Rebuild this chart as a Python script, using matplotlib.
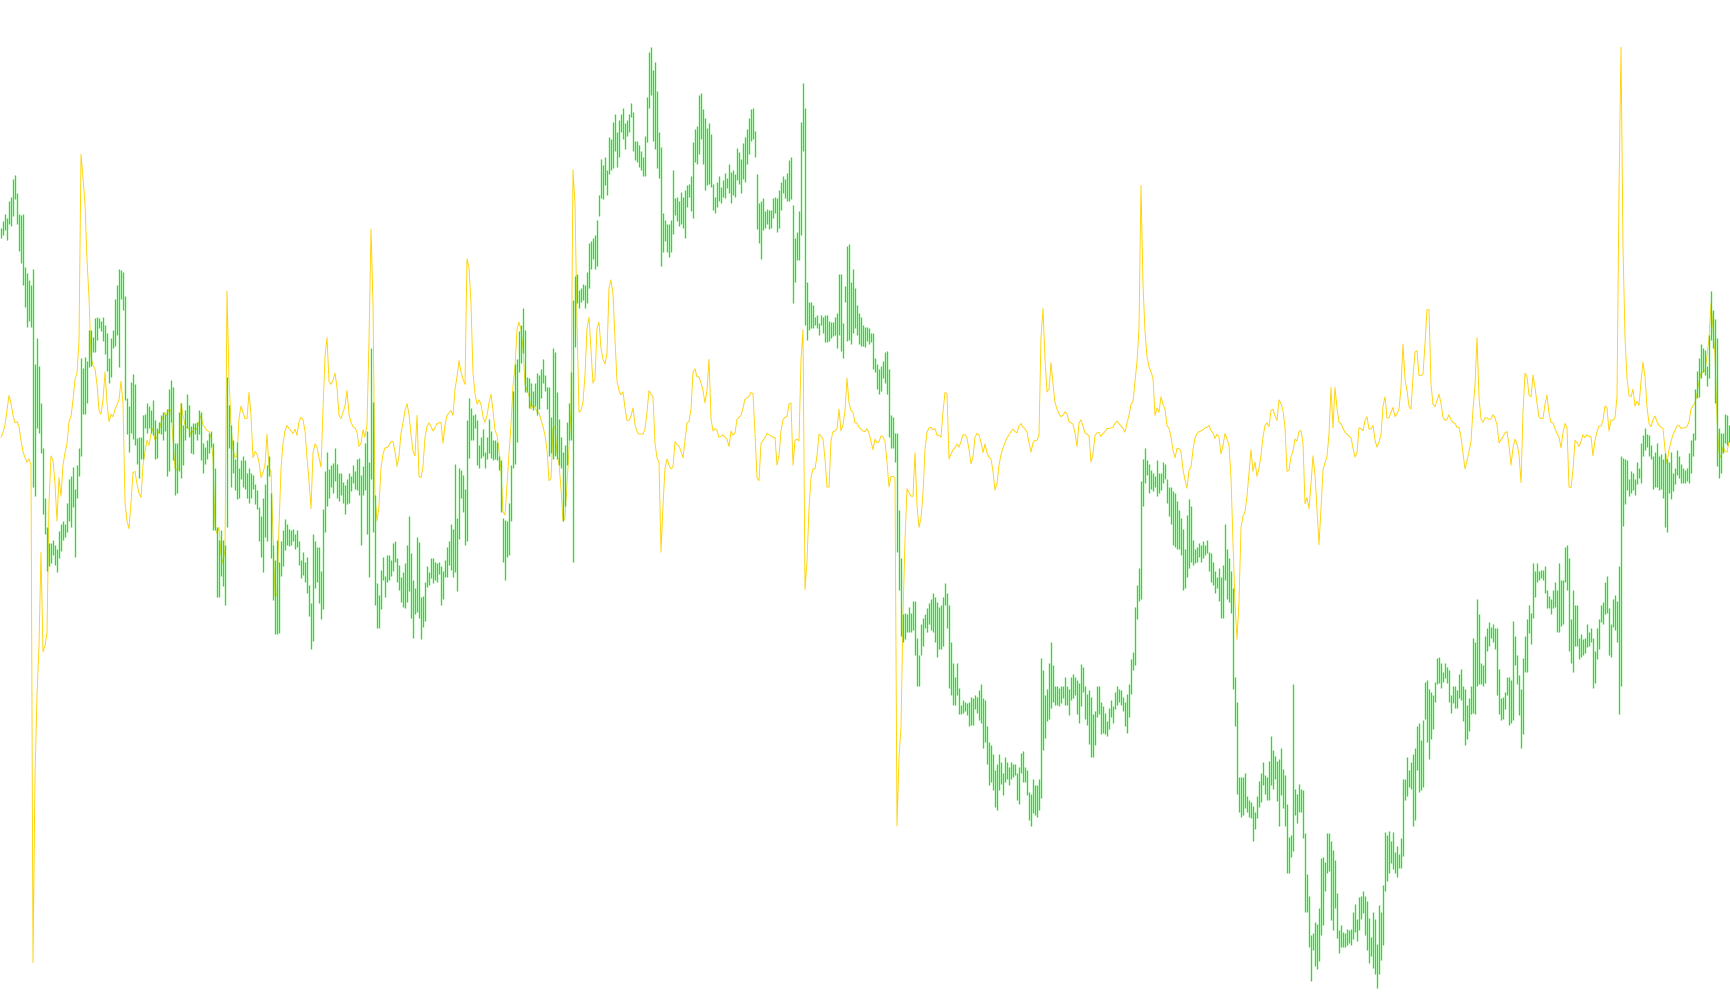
import numpy as np
import matplotlib
matplotlib.use('Agg')
import matplotlib.pyplot as plt

# bar highs, one per bar, left to right (chart units)
bar_high = [
    1282, 1292, 1304, 1298, 1325, 1332, 1360, 1366, 1338, 1304,
    1302, 1304, 1219, 1209, 1198, 1190, 1215, 1063, 1104, 1060,
    1000, 928, 848, 800, 775, 775, 780, 772, 765, 794,
    805, 810, 805, 840, 878, 882, 897, 862, 900, 928,
    1072, 1057, 1074, 1067, 1118, 1118, 1106, 1137, 1138, 1136,
    1132, 1138, 1125, 1113, 1072, 1104, 1117, 1168, 1190, 1215,
    1214, 1210, 1172, 1008, 995, 1033, 1046, 1030, 944, 945,
    945, 980, 982, 1000, 995, 988, 1005, 972, 960, 970,
    980, 985, 983, 990, 1022, 1037, 1025, 935, 935, 985,
    1000, 965, 988, 1015, 996, 963, 968, 968, 970, 988,
    985, 935, 930, 940, 952, 955, 935, 895,
    800, 780, 795, 780, 772, 1042, 997, 965, 940, 910,
    938, 895, 908, 915, 908, 888, 895, 888, 885, 870,
    860, 832, 818, 848, 870, 900, 915, 855, 772, 748,
    780, 745, 778, 795, 814, 805, 798, 795, 798, 790,
    795, 778, 748, 760, 745, 752, 708, 678, 790, 778,
    768, 768, 730, 830, 890, 922, 894, 900, 903, 928,
    902, 888, 888, 873, 868, 878, 888, 882, 900, 890,
    910, 912, 885, 898, 935, 955, 905, 1088, 1002, 852,
    710, 692, 732, 752, 722, 755, 755, 748, 775, 778,
    750, 740, 720, 728, 742, 772, 818, 758, 715, 702,
    784, 777, 688, 690, 712, 738, 728, 750,
    750, 745, 742, 745, 738, 730, 748, 768, 778, 805,
    798, 902, 815, 895, 892, 885, 862, 972, 1008, 992,
    980, 982, 972, 932, 945, 958, 922, 945, 975, 955,
    940, 940, 938, 915, 908, 815, 812, 810, 840, 900,
    1020, 1062, 1070, 1115, 1125, 1153, 1118, 1042, 1040, 1032,
    1020, 1032, 1048, 1045, 1055, 1070, 1045, 1025, 1025, 978,
    1088, 1082, 1018, 975, 945, 922, 932, 970, 1000, 1050,
    1165, 1205, 1208, 1182, 1185, 1192, 1190, 1210, 1258, 1260,
    1265, 1270, 1295, 1335, 1392, 1382, 1395, 1375, 1428, 1425,
    1452, 1465, 1435, 1455, 1465, 1475, 1450, 1455, 1465, 1482,
    1468, 1422, 1422, 1415, 1405, 1395, 1430, 1492,
    1565, 1572, 1535, 1548, 1502, 1435, 1412, 1305, 1295, 1288,
    1288, 1295, 1375, 1330, 1332, 1325, 1340, 1332, 1342, 1350,
    1352, 1365, 1420, 1440, 1445, 1495, 1498, 1472, 1458, 1442,
    1450, 1432, 1352, 1332, 1355, 1365, 1348, 1358, 1370, 1362,
    1385, 1372, 1375, 1368, 1410, 1404, 1392, 1418, 1428, 1440,
    1458, 1472, 1475, 1438, 1368, 1322, 1325, 1330, 1308, 1312,
    1310, 1310, 1330, 1332, 1330, 1342, 1355, 1365, 1360, 1370,
    1390, 1395, 1318, 1265, 1275, 1308, 1452, 1515, 1475, 1195,
    1162, 1162, 1157, 1138, 1142, 1128, 1142, 1138, 1142, 1142,
    1132, 1130, 1130, 1138, 1145, 1207, 1207, 1128, 1188, 1252,
    1255, 1195, 1215, 1185, 1158, 1145, 1138, 1125,
    1122, 1122, 1120, 1112, 1112, 1072, 1062, 1055, 1060, 1068,
    1082, 1084, 1055, 980, 978, 952, 952, 828, 750, 660,
    662, 660, 672, 662, 682, 682, 622, 595, 645, 655,
    660, 670, 678, 685, 695, 688, 680, 672, 675, 688,
    710, 695, 675, 615, 582, 560, 582, 542, 515, 522,
    520, 518, 520, 528, 525, 530, 528, 538, 548, 525,
    522, 480, 455, 450, 435, 410, 420, 435, 422, 405,
    430, 422, 415, 422, 420, 420, 405, 415, 438, 440,
    415, 410, 375, 372, 395, 385, 385, 395, 590, 570,
    530, 540, 582, 615, 578, 545, 545, 542, 545, 545,
    560, 545, 540, 560, 565, 560, 555, 550,
    580, 575, 545, 532, 538, 528, 500, 505, 545, 545,
    520, 512, 502, 488, 510, 522, 512, 535, 545, 540,
    538, 528, 520, 532, 548, 588, 600, 672, 708, 735,
    875, 910, 928, 908, 902, 892, 888, 882, 908, 888,
    888, 905, 902, 878, 865, 865, 858, 855, 842, 828,
    815, 798, 765, 820, 845, 835, 780, 765, 768, 775,
    772, 778, 772, 780, 760, 758, 745, 730, 720, 735,
    720, 740, 805, 765, 750, 730, 702, 560, 520, 398,
    398, 398, 405, 368, 362, 358, 352, 342, 368, 392,
    405, 422, 402, 398, 425, 465, 442, 432, 425, 428,
    445, 412, 402, 355, 302, 305, 548, 380,
    372, 388, 380, 378, 308, 242, 208, 145, 148, 165,
    162, 188, 268, 270, 262, 308, 308, 295, 282, 265,
    212, 152, 160, 150, 148, 155, 152, 155, 182, 195,
    170, 205, 208, 215, 208, 200, 172, 142, 182, 170,
    130, 192, 182, 225, 310, 305, 312, 295, 310, 278,
    288, 275, 300, 395, 395, 430, 410, 422, 435, 445,
    480, 485, 458, 490, 552, 555, 540, 535, 530, 552,
    590, 592, 582, 568, 582, 575, 570, 530, 545, 545,
    538, 565, 572, 545, 540, 515, 525, 545, 622, 615,
    685, 660, 582, 578, 625, 638, 648, 640, 645, 638,
    638, 572, 525, 528, 535, 560, 560, 555,
    650, 625, 595, 562, 540, 590, 625, 652, 675, 662,
    742, 730, 742, 730, 732, 732, 738, 700, 690, 685,
    700, 712, 700, 742, 715, 715, 768, 772, 750, 652,
    700, 675, 675, 622, 628, 620, 622, 645, 632, 638,
    622, 602, 638, 652, 675, 680, 712, 722, 670, 645,
    685, 692, 682, 738, 915, 912, 910, 908, 878, 890,
    888, 878, 905, 895, 935, 948, 960, 950, 948, 932,
    915, 922, 935, 915, 918, 910, 920, 910, 905, 922,
    888, 895, 925, 915, 902, 895, 892, 895, 920, 940,
    952, 1022, 1052, 1072, 1095, 1088, 1085, 1060, 1110, 1180,
    1150, 1135, 1105, 960, 952, 952, 982, 980, 965,
]

# bar lows, same order
bar_low = [
    1265, 1270, 1278, 1262, 1288, 1284, 1300, 1328, 1288, 1244,
    1225, 1190, 1155, 1122, 1132, 1122, 865, 850, 960, 952,
    920, 822, 790, 730, 738, 742, 755, 740, 728, 750,
    762, 780, 785, 792, 810, 800, 832, 752, 848, 882,
    915, 982, 982, 1000, 1058, 1060, 1082, 1082, 1102, 1120,
    1116, 1100, 1078, 1052, 1032, 1042, 1088, 1092, 1110, 1058,
    1168, 1150, 1005, 950, 922, 952, 942, 932, 902, 880,
    910, 910, 960, 952, 960, 952, 948, 910, 912, 952,
    950, 940, 955, 882, 890, 970, 908, 852, 855, 890,
    880, 900, 940, 960, 945, 920, 918, 950, 940, 950,
    908, 888, 902, 910, 920, 930, 795, 795,
    688, 688, 722, 705, 675, 800, 928, 865, 888, 860,
    845, 848, 878, 865, 862, 848, 840, 848, 862, 838,
    830, 778, 752, 728, 785, 778, 882, 750, 684, 628,
    628, 630, 722, 738, 764, 772, 770, 772, 778, 765,
    768, 740, 718, 724, 712, 695, 658, 605, 618, 702,
    712, 678, 652, 668, 792, 835, 848, 865, 855, 875,
    848, 843, 852, 840, 822, 838, 840, 858, 872, 862,
    860, 852, 772, 852, 860, 790, 720, 878, 792, 675,
    638, 638, 668, 715, 688, 712, 715, 722, 730, 745,
    712, 700, 680, 672, 670, 680, 698, 655, 622, 660,
    664, 655, 620, 640, 650, 704, 708, 718,
    710, 715, 712, 725, 675, 685, 720, 720, 740, 732,
    720, 728, 698, 782, 848, 825, 772, 778, 912, 940,
    940, 960, 900, 895, 912, 915, 895, 910, 920, 912,
    908, 910, 908, 892, 825, 745, 715, 752, 755, 810,
    895, 902, 938, 1050, 1065, 1080, 1018, 1018, 992, 995,
    988, 995, 980, 990, 1008, 1032, 1020, 990, 915, 920,
    910, 915, 910, 900, 895, 810, 835, 900, 940, 940,
    745, 1090, 1160, 1152, 1162, 1165, 1152, 1160, 1185, 1215,
    1232, 1215, 1220, 1300, 1330, 1328, 1350, 1335, 1368, 1375,
    1378, 1405, 1380, 1395, 1435, 1425, 1408, 1430, 1435, 1460,
    1405, 1390, 1388, 1380, 1375, 1365, 1365, 1420,
    1475, 1495, 1422, 1408, 1378, 1362, 1220, 1242, 1260, 1242,
    1235, 1242, 1272, 1302, 1292, 1285, 1288, 1282, 1265, 1315,
    1332, 1308, 1298, 1388, 1385, 1400, 1425, 1385, 1342, 1350,
    1352, 1348, 1310, 1305, 1315, 1325, 1322, 1332, 1330, 1345,
    1338, 1322, 1335, 1332, 1358, 1352, 1338, 1360, 1355, 1385,
    1400, 1422, 1425, 1395, 1280, 1258, 1232, 1278, 1282, 1288,
    1280, 1282, 1298, 1305, 1275, 1282, 1310, 1338, 1330, 1325,
    1325, 1328, 1160, 1195, 1230, 1230, 1270, 1405, 1125, 1102,
    1118, 1120, 1120, 1125, 1120, 1110, 1125, 1112, 1098, 1098,
    1100, 1105, 1108, 1110, 1088, 1110, 1084, 1072, 1162, 1100,
    1102, 1095, 1112, 1120, 1110, 1095, 1092, 1092,
    1090, 1100, 1095, 1098, 1055, 1050, 1022, 1015, 1020, 1040,
    1032, 1015, 945, 928, 928, 905, 760, 700, 625, 615,
    620, 632, 632, 632, 635, 595, 545, 545, 595, 610,
    638, 632, 645, 635, 632, 615, 592, 605, 605, 610,
    675, 638, 542, 530, 515, 515, 530, 500, 500, 502,
    505, 498, 480, 482, 482, 508, 502, 490, 485, 445,
    455, 420, 385, 390, 378, 350, 345, 378, 388, 370,
    390, 395, 385, 395, 398, 402, 362, 355, 405, 390,
    390, 370, 330, 320, 340, 338, 335, 345, 365, 442,
    462, 488, 492, 510, 520, 515, 515, 512, 518, 525,
    515, 515, 498, 522, 525, 530, 500, 485,
    512, 535, 492, 482, 452, 430, 430, 450, 495, 500,
    468, 470, 468, 465, 475, 495, 485, 508, 515, 520,
    515, 505, 480, 470, 495, 532, 570, 578, 652, 682,
    685, 835, 872, 885, 855, 862, 858, 865, 850, 855,
    860, 872, 878, 840, 818, 805, 772, 768, 765, 765,
    755, 700, 702, 720, 735, 745, 740, 742, 745, 752,
    745, 750, 755, 758, 730, 712, 708, 695, 702, 682,
    655, 655, 715, 685, 680, 662, 540, 480, 372, 342,
    335, 338, 348, 342, 335, 332, 295, 315, 332, 350,
    358, 385, 372, 362, 362, 385, 380, 395, 360, 320,
    370, 348, 320, 245, 245, 270, 280, 338,
    325, 342, 342, 300, 182, 182, 125, 70, 120, 95,
    90, 102, 145, 160, 215, 245, 248, 168, 152, 188,
    140, 115, 125, 125, 125, 128, 132, 128, 138, 150,
    135, 152, 170, 180, 145, 120, 100, 110, 92, 82,
    60, 82, 105, 128, 215, 232, 245, 260, 250, 245,
    238, 252, 252, 272, 362, 368, 382, 380, 320, 330,
    410, 375, 378, 382, 492, 455, 428, 460, 475, 520,
    548, 550, 542, 552, 558, 550, 520, 502, 518, 510,
    510, 525, 522, 488, 450, 460, 472, 500, 502, 500,
    545, 548, 548, 545, 550, 602, 610, 622, 615, 605,
    530, 500, 490, 492, 508, 530, 482, 485,
    490, 578, 548, 498, 445, 468, 568, 568, 630, 612,
    655, 688, 712, 715, 718, 715, 695, 670, 670, 660,
    670, 672, 632, 632, 642, 645, 712, 700, 602, 582,
    568, 610, 610, 588, 592, 595, 598, 608, 610, 615,
    542, 550, 588, 605, 648, 645, 660, 662, 595, 592,
    640, 635, 615, 500, 545, 802, 838, 860, 850, 855,
    860, 852, 870, 880, 872, 915, 925, 930, 915, 910,
    862, 865, 865, 860, 862, 848, 800, 792, 855, 845,
    858, 870, 885, 880, 872, 872, 872, 875, 872, 888,
    915, 940, 1008, 1010, 1040, 1050, 1045, 1028, 1040, 1102,
    1088, 1000, 898, 880, 888, 920, 935, 932, 938,
]

# yellow overlay line, one value per bar
line_vals = [
    945, 952, 965, 988, 1012, 1000, 980, 968, 970, 962,
    940, 922, 912, 905, 910, 900, 100, 400, 530, 610,
    760, 600, 610, 630, 840, 915, 908, 870, 810, 880,
    850, 900, 920, 935, 970, 978, 1005, 1038, 1048, 1100,
    1400, 1362, 1320, 1230, 1170, 1075, 1060, 1055, 1030, 988,
    982, 1005, 1050, 1000, 970, 982, 978, 990, 997, 1005,
    1035, 1000, 840, 810, 798, 840, 888, 890, 870, 855,
    848, 900, 922, 940, 932, 950, 960, 940, 945, 955,
    968, 978, 985, 980, 990, 988, 940, 895, 892, 895,
    1000, 980, 965, 960, 958, 948, 956, 960, 957, 970,
    980, 965, 960, 956, 954, 945, 910, 800,
    790, 800, 755, 742, 765, 1180, 1040, 965, 925, 912,
    915, 975, 995, 985, 975, 975, 1017, 980, 912, 922,
    918, 905, 880, 888, 900, 950, 895, 890, 790, 690,
    690, 800, 895, 935, 955, 964, 959, 955, 951, 958,
    948, 970, 977, 973, 955, 912, 875, 830, 920, 934,
    929, 912, 897, 990, 1075, 1105, 1035, 1030, 1037, 1048,
    1025, 980, 975, 985, 995, 1020, 982, 969, 962, 960,
    953, 930, 935, 957, 945, 965, 1100, 1280, 1160, 850,
    810, 835, 895, 918, 928, 928, 932, 938, 938, 922,
    898, 915, 952, 968, 988, 999, 982, 950, 922, 915,
    980, 882, 880, 898, 945, 962, 968, 962,
    955, 960, 967, 968, 969, 935, 965, 980, 984, 988,
    980, 1022, 1042, 1068, 1050, 1038, 1030, 1232, 1218, 1160,
    1048, 1015, 998, 1005, 998, 978, 969, 980, 1000, 1014,
    988, 956, 948, 925, 890, 825, 820, 870, 918, 965,
    1028, 1058, 1118, 1130, 1118, 1088, 1030, 1020, 1012, 990,
    996, 993, 986, 984, 973, 962, 948, 925, 875, 878,
    960, 962, 918, 902, 862, 810, 815, 870, 925, 990,
    1375, 1320, 1130, 985, 988, 1002, 1045, 1120, 1138, 1085,
    1032, 1040, 1120, 1130, 1088, 1070, 1063, 1080, 1185, 1198,
    1175, 1102, 1035, 1020, 1013, 1018, 992, 972, 972, 979,
    992, 965, 954, 950, 950, 950, 958, 985,
    1020, 1014, 1010, 935, 912, 905, 760, 835, 895, 910,
    900, 894, 897, 938, 933, 931, 922, 912, 940, 968,
    970, 990, 1050, 1055, 1042, 1042, 1032, 1020, 1000, 1020,
    1070, 975, 955, 959, 956, 945, 946, 949, 945, 942,
    930, 955, 948, 952, 974, 977, 980, 992, 1006, 1008,
    1011, 1017, 1015, 950, 880, 875, 935, 940, 944, 951,
    949, 947, 945, 945, 900, 915, 955, 973, 977, 978,
    998, 1000, 900, 940, 942, 939, 1070, 1118, 700, 745,
    830, 880, 894, 894, 915, 950, 947, 942, 910, 865,
    865, 940, 954, 955, 959, 990, 955, 965, 988, 1040,
    1000, 988, 985, 968, 968, 961, 958, 955,
    954, 959, 952, 938, 925, 942, 936, 938, 947, 946,
    938, 905, 865, 882, 882, 880, 320, 430, 480, 660,
    780, 862, 856, 850, 850, 920, 835, 800, 815, 855,
    925, 953, 960, 961, 957, 959, 948, 948, 945, 985,
    1017, 1015, 910, 918, 925, 928, 934, 929, 938, 949,
    949, 944, 925, 902, 914, 945, 951, 949, 937, 920,
    934, 920, 913, 910, 890, 860, 870, 900, 917, 928,
    936, 944, 949, 954, 958, 954, 952, 963, 967, 961,
    959, 953, 936, 921, 936, 940, 940, 948, 1105, 1152,
    1070, 1018, 1022, 1065, 1030, 1001, 990, 983, 978, 980,
    986, 982, 970, 968, 966, 952, 930, 968,
    973, 963, 952, 950, 947, 905, 918, 948, 952, 953,
    946, 951, 954, 959, 959, 960, 961, 967, 971, 967,
    963, 959, 953, 968, 980, 998, 1002, 1035, 1067, 1120,
    1350, 1190, 1115, 1075, 1058, 1050, 1040, 980, 992, 985,
    1010, 998, 990, 964, 959, 946, 924, 912, 927, 927,
    922, 893, 876, 863, 892, 897, 925, 944, 951, 954,
    955, 957, 960, 961, 964, 956, 952, 943, 950, 945,
    918, 932, 951, 942, 932, 880, 775, 678, 620, 680,
    800, 818, 825, 850, 888, 925, 890, 905, 882, 895,
    916, 945, 964, 968, 962, 988, 990, 979, 972, 1005,
    999, 988, 960, 890, 892, 914, 922, 942,
    939, 954, 956, 935, 838, 848, 830, 870, 915, 885,
    830, 772, 830, 892, 904, 914, 950, 1025, 960, 1025,
    992, 969, 967, 959, 953, 950, 947, 944, 928, 913,
    920, 960, 959, 955, 972, 978, 958, 958, 964, 940,
    929, 937, 949, 995, 1010, 976, 976, 985, 993, 978,
    983, 990, 1025, 1095, 1038, 1020, 995, 990, 1042, 1082,
    1084, 1044, 1044, 1047, 1095, 1150, 1150, 1030, 998, 994,
    1004, 1014, 1000, 977, 972, 974, 981, 973, 969, 967,
    961, 961, 945, 920, 894, 907, 922, 938, 990, 1028,
    1105, 1010, 974, 969, 976, 976, 974, 974, 981, 976,
    965, 936, 941, 946, 952, 954, 932, 900,
    928, 942, 934, 917, 872, 985, 1048, 1042, 1013, 1010,
    1045, 1025, 1000, 977, 975, 975, 998, 1013, 983, 969,
    968, 959, 951, 945, 928, 952, 967, 960, 865, 864,
    892, 940, 936, 930, 938, 949, 944, 949, 946, 946,
    915, 940, 954, 963, 963, 972, 995, 992, 955, 973,
    972, 976, 1010, 1340, 1572, 1250, 1105, 1040, 1012, 1010,
    1022, 995, 1003, 996, 1035, 1066, 1042, 994, 967, 962,
    973, 979, 970, 964, 961, 959, 925, 903, 925, 938,
    949, 956, 963, 964, 959, 960, 960, 962, 970, 990,
    996, 1000, 1015, 1035, 1048, 1050, 1052, 1075, 1105, 1160,
    1120, 1075, 975, 920, 912, 930, 922, 921, 938,
]

n = min(len(bar_high), len(bar_low))
xb = np.arange(n)
xl = np.arange(len(line_vals))

fig = plt.figure(figsize=(17.3, 10.05), dpi=100)
ax = fig.add_axes([0, 0, 1, 1])

ax.plot(xl, line_vals, color='#FFD200', lw=0.65, zorder=2)
ax.vlines(xb, bar_low[:n], bar_high[:n], color='#1EE61E', lw=0.95, zorder=3)

ax.set_xlim(-0.5, 864.5)
ax.set_ylim(32, 1648)
ax.axis('off')

fig.savefig('out.png', dpi=100, facecolor='white')
